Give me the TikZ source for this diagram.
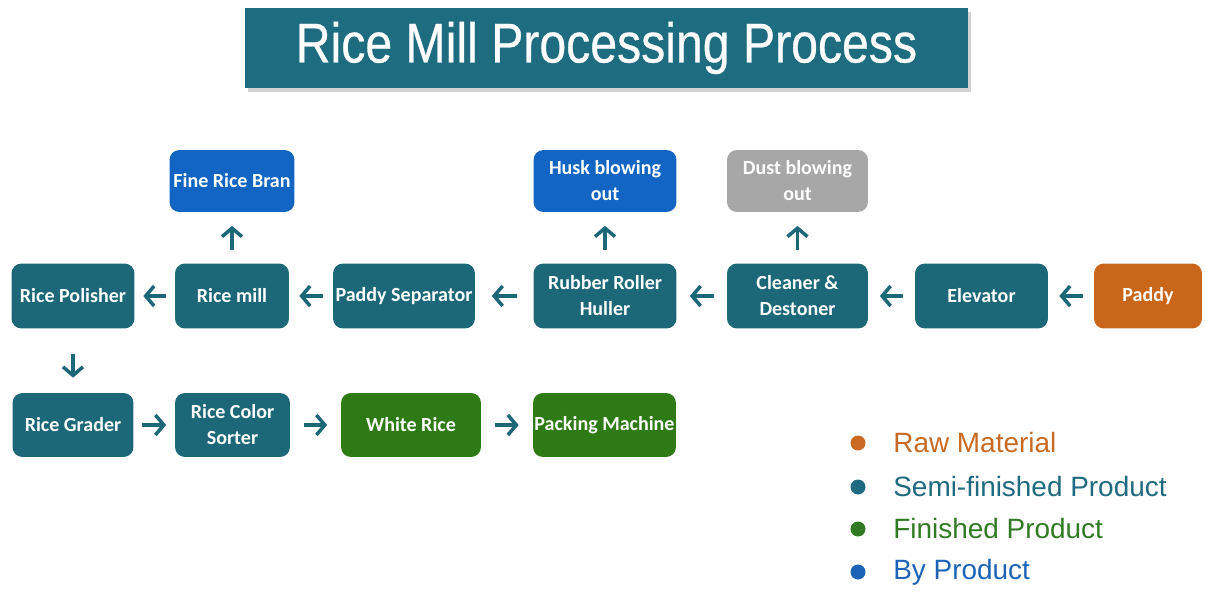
\documentclass[tikz,border=0pt]{standalone}
\usepackage{fontspec}
\setmainfont{Liberation Sans}
\newfontfamily\titlefont[FakeStretch=0.86,FakeBold=0.5]{Liberation Sans}
\newfontfamily\boxfont{Carlito}
\usetikzlibrary{arrows.meta,shadows}
\definecolor{titleteal}{HTML}{1D6C7F}
\definecolor{stageteal}{HTML}{1C6878}
\definecolor{rawbrown}{HTML}{C9661A}
\definecolor{finishgreen}{HTML}{2E7A14}
\definecolor{byblue}{HTML}{1265C2}
\definecolor{dustgray}{HTML}{A7A7A7}
\definecolor{legraw}{HTML}{C86A24}
\definecolor{legsemi}{HTML}{1E6A80}
\definecolor{legfin}{HTML}{2F7A22}
\definecolor{legby}{HTML}{1C63B8}

\begin{document}
\begin{tikzpicture}[x=0.02cm,y=-0.02cm,
		stage/.style={rounded corners=0.2cm,fill=stageteal,text=white,align=center,inner sep=0pt,
			minimum height=1.3cm,font=\boxfont\bfseries\fontsize{11.4}{14.8}\selectfont},
		flow/.style={-{Straight Barb[length=0.17cm,width=0.4cm]},line width=0.07cm,draw=stageteal,
			shorten >=#1,shorten <=#1},
		legdot/.style={circle,inner sep=0pt,minimum size=0.3cm},
		legtext/.style={anchor=west,inner sep=0pt,font=\fontsize{15.9}{18}\selectfont}]
			\useasboundingbox (0,0) rectangle (1205,592);
			\node [fill=titleteal,minimum width=14.46cm,minimum height=1.6cm,inner sep=0pt,
				drop shadow={shadow xshift=0.06cm,shadow yshift=-0.08cm,opacity=0.35},
				text=white,font=\titlefont\fontsize{31.9}{34}\selectfont] (title) at (606.5,48) {Rice Mill Processing Process};
			\node [stage,minimum width=2.46cm] (polisher) at (73,296) {Rice Polisher};
			\node [stage,minimum width=2.28cm] (mill) at (232,296) {Rice mill};
			\node [stage,minimum width=2.84cm] (separator) at (404,296) {Paddy Separator};
			\node [stage,minimum width=2.86cm] (huller) at (605,296) {Rubber Roller\\Huller};
			\node [stage,minimum width=2.82cm] (cleaner) at (797.5,296) {Cleaner \&\\Destoner};
			\node [stage,minimum width=2.66cm] (elevator) at (981.5,296) {Elevator};
			\node [stage,minimum width=2.16cm,fill=rawbrown] (paddy) at (1148,296) {Paddy};
			\node [stage,minimum width=2.5cm,minimum height=1.24cm,fill=byblue] (bran) at (232,181) {Fine Rice Bran};
			\node [stage,minimum width=2.86cm,minimum height=1.24cm,fill=byblue] (husk) at (605,181) {Husk blowing\\out};
			\node [stage,minimum width=2.82cm,minimum height=1.24cm,fill=dustgray] (dust) at (797.5,181) {Dust blowing\\out};
			\node [stage,minimum width=2.42cm,minimum height=1.28cm] (grader) at (73,425) {Rice Grader};
			\node [stage,minimum width=2.3cm,minimum height=1.28cm] (sorter) at (232.5,425) {Rice Color\\Sorter};
			\node [stage,minimum width=2.8cm,minimum height=1.28cm,fill=finishgreen] (white) at (411,425) {White Rice};
			\node [stage,minimum width=2.86cm,minimum height=1.28cm,fill=finishgreen] (packing) at (604.5,425) {Packing Machine};
			\draw [flow=0.22cm] (paddy) -- (elevator);
			\draw [flow=0.23cm] (elevator) -- (cleaner);
			\draw [flow=0.26cm] (cleaner) -- (huller);
			\draw [flow=0.33cm] (huller) -- (separator);
			\draw [flow=0.2cm] (separator) -- (mill);
			\draw [flow=0.17cm] (mill) -- (polisher);
			\draw [flow=0.27cm] (mill) -- (bran);
			\draw [flow=0.27cm] (huller) -- (husk);
			\draw [flow=0.27cm] (cleaner) -- (dust);
			\draw [flow=0.3cm,shorten <=0.5cm] (polisher) -- (grader);
			\draw [flow=0.17cm] (grader) -- (sorter);
			\draw [flow=0.27cm] (sorter) -- (white);
			\draw [flow=0.28cm] (white) -- (packing);
			\node [legdot,fill=legraw] (dotraw) at (858,443) {};
			\node [legdot,fill=legsemi] (dotsemi) at (858,487) {};
			\node [legdot,fill=legfin] (dotfin) at (858,529) {};
			\node [legdot,fill=legby] (dotby) at (858,572) {};
			\node [legtext,text=legraw] (raw) at (893,443) {Raw Material};
			\node [legtext,text=legsemi] (semi) at (893,487) {Semi-finished Product};
			\node [legtext,text=legfin] (fin) at (893,529) {Finished Product};
			\node [legtext,text=legby] (by) at (893,572) {By Product};
		\end{tikzpicture}
\end{document}
